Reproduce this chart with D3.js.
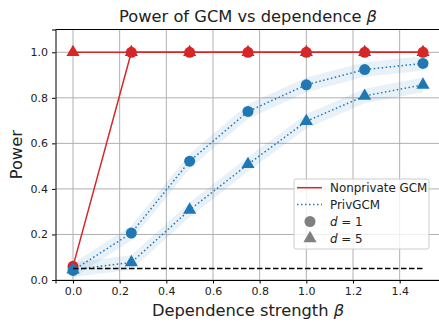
<!DOCTYPE html>
<html>
<head>
<meta charset="utf-8">
<script src="https://cdn.jsdelivr.net/npm/d3@7"></script>
<style>
  body { margin: 0; background: #fff; }
  text { font-family: "DejaVu Sans", sans-serif; fill: #222; }
</style>
</head>
<body>
<svg id="chart"></svg>
<script>
// valeurs
const betas = [0, 0.25, 0.5, 0.75, 1.0, 1.25, 1.5];
const nonprivD1 = [0.06, 1, 1, 1, 1, 1, 1];
const nonprivD5 = [1, 1, 1, 1, 1, 1, 1];
const privD1 = [0.042, 0.206, 0.522, 0.74, 0.857, 0.924, 0.951];
const privD5 = [0.045, 0.077, 0.308, 0.508, 0.697, 0.808, 0.857];
const bandHalf = 0.032;
const alphaLevel = 0.05;
const xTicks = [0, 0.2, 0.4, 0.6, 0.8, 1.0, 1.2, 1.4];
const yTicks = [0, 0.2, 0.4, 0.6, 0.8, 1.0];

const W = 439, H = 323;
const margin = { left: 55.5, top: 29.5, right: -1.5, bottom: 43 };
const red = "#d62728", blue = "#1f77b4";

const svg = d3.select("#chart").attr("width", W).attr("height", H);

const x = d3.scaleLinear().domain([-0.075, 1.575]).range([margin.left, W - margin.right]);
const y = d3.scaleLinear().domain([0, 1.1]).range([H - margin.bottom, margin.top]);

const plot = svg.append("g");

// grille
plot.selectAll(".gx").data(xTicks).join("line")
  .attr("x1", d => x(d)).attr("x2", d => x(d))
  .attr("y1", y(0)).attr("y2", y(1.1))
  .attr("stroke", "#b0b0b0").attr("stroke-width", 1);
plot.selectAll(".gy").data(yTicks).join("line")
  .attr("x1", x(-0.075)).attr("x2", x(1.575))
  .attr("y1", d => y(d)).attr("y2", d => y(d))
  .attr("stroke", "#b0b0b0").attr("stroke-width", 1);

// bandes
const area = d3.area().x((d, i) => x(betas[i])).y0(d => y(d - bandHalf)).y1(d => y(d + bandHalf));
[privD1, privD5].forEach(s => {
  plot.append("path").attr("d", area(s)).attr("fill", blue).attr("fill-opacity", 0.1);
});

const line = d3.line().x((d, i) => x(betas[i])).y(d => y(d));

// Nonprivate
[nonprivD5, nonprivD1].forEach(s => {
  plot.append("path").attr("d", line(s)).attr("fill", "none")
    .attr("stroke", red).attr("stroke-width", 1.5);
});

const tri = d3.symbol().type(d3.symbolTriangle).size(75);
const circ = d3.symbol().type(d3.symbolCircle).size(95);

function markers(s, sym, color) {
  plot.append("g").selectAll("path").data(s).join("path")
    .attr("transform", (d, i) => `translate(${x(betas[i])},${y(d)})`)
    .attr("d", sym).attr("fill", color);
}
markers(nonprivD5, tri, red);
markers(nonprivD1, circ, red);

// PrivGCM
[privD1, privD5].forEach(s => {
  plot.append("path").attr("d", line(s)).attr("fill", "none")
    .attr("stroke", blue).attr("stroke-width", 1.5)
    .attr("stroke-dasharray", "1.5,2.5");
});
markers(privD5, tri, blue);
markers(privD1, circ, blue);

// niveau alpha
plot.append("line")
  .attr("x1", x(0)).attr("x2", x(1.5))
  .attr("y1", y(alphaLevel)).attr("y2", y(alphaLevel))
  .attr("stroke", "#000").attr("stroke-width", 1.5).attr("stroke-dasharray", "5.5,2.5");

// axes
const xAxis = svg.append("g").attr("transform", `translate(0,${y(0)})`)
  .call(d3.axisBottom(x).tickValues(xTicks).tickFormat(d3.format(".1f")).tickSize(3.5).tickPadding(4));
const yAxis = svg.append("g").attr("transform", `translate(${x(-0.075)},0)`)
  .call(d3.axisLeft(y).tickValues(yTicks).tickFormat(d3.format(".1f")).tickSize(3.5).tickPadding(4));
[xAxis, yAxis].forEach(a => {
  a.selectAll("text").attr("font-size", 11).attr("font-family", "DejaVu Sans");
  a.select(".domain").attr("stroke", "#000").attr("stroke-width", 1);
  a.selectAll(".tick line").attr("stroke", "#000");
});
svg.append("line").attr("x1", x(-0.075)).attr("x2", x(1.575))
  .attr("y1", y(1.1)).attr("y2", y(1.1)).attr("stroke", "#000");

// titres
const title = svg.append("text").attr("x", (x(-0.075) + x(1.575)) / 2).attr("y", 21.5)
  .attr("text-anchor", "middle").attr("font-size", 16.3);
title.append("tspan").text("Power of GCM vs dependence ");
title.append("tspan").attr("font-style", "italic").text("β");

const xl = svg.append("text").attr("x", (x(-0.075) + x(1.575)) / 2).attr("y", 315.5)
  .attr("text-anchor", "middle").attr("font-size", 16.3);
xl.append("tspan").text("Dependence strength ");
xl.append("tspan").attr("font-style", "italic").text("β");

svg.append("text").attr("transform", `translate(22,${(y(0) + y(1.1)) / 2}) rotate(-90)`)
  .attr("text-anchor", "middle").attr("font-size", 16.3).text("Power");

// légende
const lg = svg.append("g").attr("transform", "translate(294,179)");
lg.append("rect").attr("width", 135).attr("height", 70).attr("rx", 2)
  .attr("fill", "#fff").attr("fill-opacity", 0.8).attr("stroke", "#ccc");
const items = [
  { label: "Nonprivate GCM", kind: "solid" },
  { label: "PrivGCM", kind: "dot" },
  { label: "d = 1", kind: "circ" },
  { label: "d = 5", kind: "tri" }
];
items.forEach((it, i) => {
  const cy = 8.7 + i * 16.9;
  const g = lg.append("g").attr("transform", `translate(0,${cy})`);
  if (it.kind === "solid" || it.kind === "dot") {
    g.append("line").attr("x1", 3).attr("x2", 28).attr("y1", 0).attr("y2", 0)
      .attr("stroke", it.kind === "solid" ? red : blue).attr("stroke-width", 1.5)
      .attr("stroke-dasharray", it.kind === "dot" ? "1.5,2.5" : null);
  } else {
    g.append("path").attr("transform", "translate(16,0)")
      .attr("d", it.kind === "circ" ? circ : tri).attr("fill", "#808080");
  }
  const t = g.append("text").attr("x", 36).attr("y", 4.2).attr("font-size", 11.9);
  if (it.kind === "circ" || it.kind === "tri") {
    t.append("tspan").attr("font-style", "italic").text("d");
    t.append("tspan").text(it.label.slice(1));
  } else {
    t.text(it.label);
  }
});
</script>
</body>
</html>
